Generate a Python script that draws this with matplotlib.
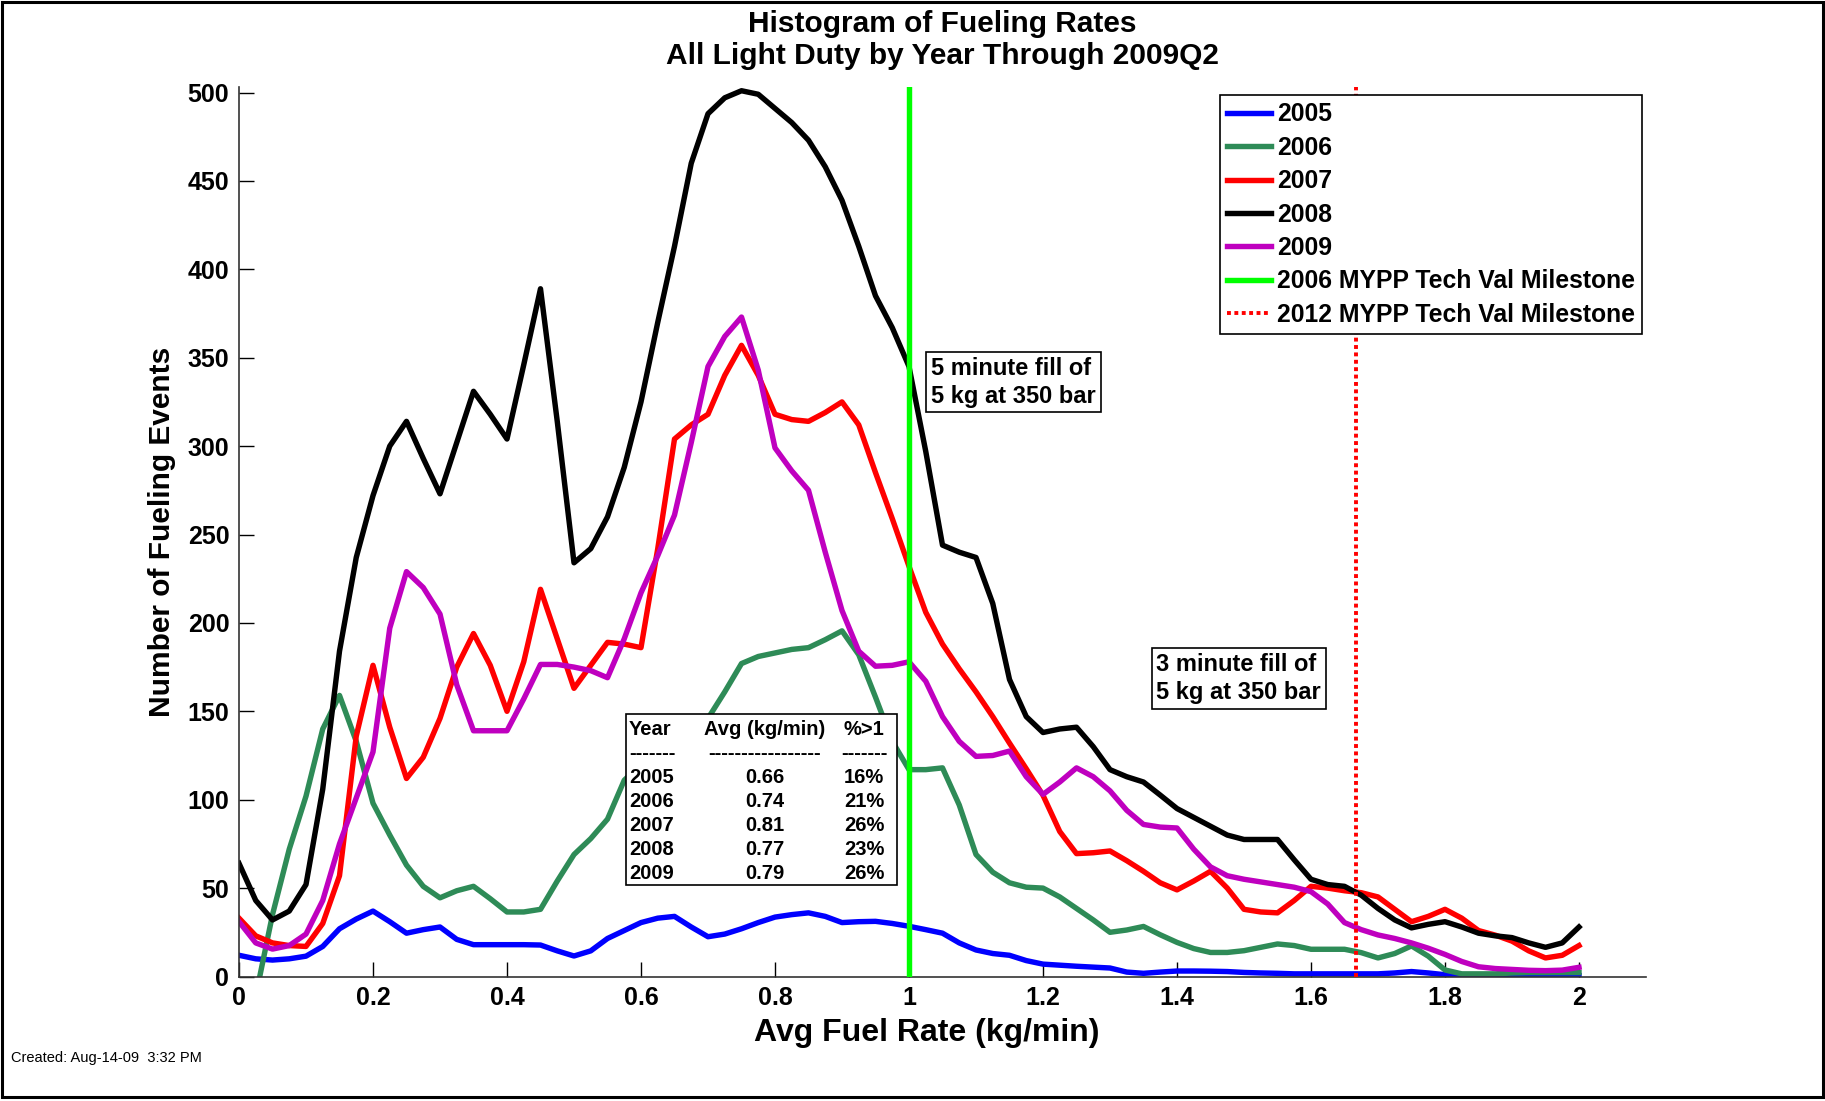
import numpy as np
import matplotlib
matplotlib.use('Agg')
import matplotlib.pyplot as plt
from matplotlib.patches import Rectangle
from matplotlib.ticker import FormatStrFormatter

plt.rcParams['font.family'] = ['Liberation Sans', 'DejaVu Sans']
plt.rcParams['font.weight'] = 'bold'

# ---------------- data ----------------
fuel_rate = np.linspace(0, 2, 81)   # kg/min, bins every 0.025

events_2005 = [12, 10, 9.3, 10, 11.5, 17, 27, 32.5, 37, 31,
               24.5, 26.5, 28, 21, 18, 18, 18, 18, 17.8, 14.5,
               11.6, 14.5, 21.5, 26, 30.5, 33, 34, 28, 22.5, 24,
               27, 30.5, 33.6, 35, 36, 34, 30.5, 31, 31.2, 30,
               28.4, 26.5, 24.5, 19, 15, 13, 12, 9, 7, 6.4,
               5.8, 5.3, 4.8, 2.5, 1.8, 2.5, 3.1, 3.1, 3, 2.8,
               2.3, 2, 1.8, 1.5, 1.5, 1.5, 1.5, 1.5, 1.5, 2,
               2.8, 2, 1, 0.7, 0.5, 0.5, 0.5, 0.5, 0.5, 0.5,
               0.5]
events_2006 = [-58, -11, 35, 72, 102, 140, 159, 133, 98, 80,
               63, 51, 44.5, 48.5, 51, 44, 36.5, 36.5, 38, 54,
               69, 78, 89, 111, 120, 127, 133, 139, 146, 161,
               177, 181, 183, 185, 186, 190.5, 195.5, 182, 158, 133,
               117, 117, 118, 97, 69, 59, 53, 50.5, 50, 45,
               38.5, 32, 25, 26.3, 28.3, 23.6, 19.3, 15.8, 13.6, 13.6,
               14.6, 16.5, 18.4, 17.5, 15.4, 15.4, 15.4, 13.5, 10.5, 13,
               17.3, 11.5, 3.7, 1.5, 1.5, 1.5, 2, 2.2, 2.2, 2.2,
               2.2]
events_2007 = [33, 23, 19, 17.5, 17, 30, 57, 136, 176, 141,
               112, 124, 146, 175, 194, 176, 150, 178, 219, 191,
               163, 176, 189, 188, 186, 242, 304, 312, 318, 340,
               357, 340, 318, 315, 314, 319, 325, 312, 285, 259,
               232, 206, 188, 174, 161, 147, 132, 117.5, 102.5, 82,
               69.5, 70, 71, 65.5, 59.5, 53, 49, 54, 59.5, 50,
               38, 36.5, 36, 43, 51, 50, 48.5, 47.4, 45, 38,
               31, 34, 38, 33, 26, 23.4, 20, 14.5, 10.5, 12,
               17.5]
events_2008 = [64, 43, 32, 37, 52, 106, 184, 237, 272, 300,
               314, 293, 273, 302, 331, 318, 304, 346, 389, 314,
               234, 242, 260, 288, 325, 370, 413, 460, 488, 497,
               501, 499, 491, 483, 473, 458, 439, 413, 385, 367,
               345, 297, 244, 240, 237, 211, 168, 147, 138, 140,
               141, 130, 117, 113, 110, 102.6, 95, 90, 85, 80,
               77.5, 77.5, 77.5, 66, 55, 52, 51, 46, 38.5, 32,
               27.5, 29.5, 31, 28, 24.5, 23, 22, 19, 16.5, 19,
               28]
events_2009 = [31, 19, 15.5, 17.5, 24, 43, 75, 101, 127, 197,
               229, 220, 205, 165, 139, 139, 139, 157, 176.5, 176.5,
               175, 173, 169, 191, 217, 238, 261, 302, 345, 362,
               373, 343, 299, 286, 275, 240, 207, 184, 175.5, 176,
               178, 167, 147, 133, 124.5, 125, 127.5, 113, 103, 110,
               118, 113, 105, 94, 86, 84.5, 84, 72, 62, 57,
               55, 53.5, 52, 50.5, 48, 41, 30.5, 26.5, 23.5, 21.5,
               19, 16, 12.5, 8.5, 5.5, 4.5, 4, 3.5, 3.3, 3.6,
               5.2]

years = ['2005', '2006', '2007', '2008', '2009']
year_colors = ['#0000ff', '#2e8b57', '#ff0000', '#000000', '#bf00bf']
series = [events_2005, events_2006, events_2007, events_2008, events_2009]

milestone_2006 = 5.0 / 5.0   # 5 kg in 5 minutes
milestone_2012 = 5.0 / 3.0   # 5 kg in 3 minutes

table_avg = ['0.66', '0.74', '0.81', '0.77', '0.79']
table_pct = ['16%', '21%', '26%', '23%', '26%']

x_ticks = np.arange(0, 2.01, 0.2)
y_ticks = np.arange(0, 501, 50)

# ---------------- figure ----------------
W, H = 1825, 1101
fig = plt.figure(figsize=(W / 100, H / 100), dpi=100)
ax = fig.add_axes([239 / W, 1 - 976.5 / H, 1407 / W, 889.3 / H])

for yr, col, vals in zip(years, year_colors, series):
    ax.plot(fuel_rate, vals, color=col, lw=3.9, label=yr, zorder=2,
            solid_joinstyle='round')

ax.axvline(milestone_2006, color='#00ff00', lw=3.9, zorder=3,
           label='2006 MYPP Tech Val Milestone')
ax.axvline(milestone_2012, color='#ff0000', lw=2.8, linestyle=(0, (1.0, 0.9)),
           zorder=3, label='2012 MYPP Tech Val Milestone')

ax.set_xlim(0, 2.1)
ax.set_ylim(0, 503)
ax.set_xticks(x_ticks)
ax.set_yticks(y_ticks)
ax.xaxis.set_major_formatter(FormatStrFormatter('%g'))
ax.tick_params(direction='in', length=10.8, width=1, labelsize=18, pad=7)
for s in ['top', 'right']:
    ax.spines[s].set_visible(False)
for s in ['left', 'bottom']:
    ax.spines[s].set_linewidth(1.2)
    ax.spines[s].set_color('#333333')

ax.set_xlabel('Avg Fuel Rate (kg/min)', fontsize=23, fontweight='bold', labelpad=3)
ax.xaxis.set_label_coords(0.4886, -0.047)
ax.set_ylabel('Number of Fueling Events', fontsize=21.5, fontweight='bold', labelpad=8)
ax.set_title('Histogram of Fueling Rates\nAll Light Duty by Year Through 2009Q2',
             fontsize=21.5, fontweight='bold', pad=16.5, linespacing=1.2)

# annotation boxes
box_kw = dict(boxstyle='square,pad=0.2', fc='white', ec='black', lw=1.2)
ax.text(1.033, 350.6, '5 minute fill of\n5 kg at 350 bar', ha='left', va='top',
        fontsize=17, fontweight='bold', bbox=box_kw, zorder=6, linespacing=1.28)
ax.text(1.369, 183, '3 minute fill of\n5 kg at 350 bar', ha='left', va='top',
        fontsize=17, fontweight='bold', bbox=box_kw, zorder=6, linespacing=1.28)

# summary table
px = 1.768  # pixels per event unit (for row spacing)
tbl_x0, tbl_x1 = 0.5776, 0.982
tbl_top, tbl_bot = 148.5, 51.75
ax.add_patch(Rectangle((tbl_x0, tbl_bot), tbl_x1 - tbl_x0, tbl_top - tbl_bot,
                       fc='white', ec='black', lw=1.2, zorder=5))
col1, col2, col3 = 0.582, 0.785, 0.933
row0 = (976.5 - 734.7) / px
dy = 24 / px
rows = [('Year', 'Avg (kg/min)', '%>1'),
        ('-------', '-----------------', '-------')]
rows += list(zip(years, table_avg, table_pct))
for i, (a, b, c) in enumerate(rows):
    yb = row0 - i * dy
    ax.text(col1, yb, a, ha='left', va='baseline', fontsize=14.5, fontweight='bold', zorder=6)
    ax.text(col2, yb, b, ha='center', va='baseline', fontsize=14.5, fontweight='bold', zorder=6)
    ax.text(col3, yb, c, ha='center', va='baseline', fontsize=14.5, fontweight='bold', zorder=6)

leg = ax.legend(loc='upper right', bbox_to_anchor=(0.9972, 0.9912), fontsize=17.8,
                frameon=True, fancybox=False, edgecolor='black', framealpha=1,
                borderpad=0.3, labelspacing=0.38, handlelength=1.75,
                handletextpad=0.24, borderaxespad=0)
leg.get_frame().set_linewidth(1.2)
leg.set_zorder(10)

fig.text(11 / W, 1 - 1058 / H, 'Created: Aug-14-09  3:32 PM', fontsize=10.5,
         fontweight='normal', ha='left', va='center')

fig.patches.append(Rectangle((0.001, 0.0035), 0.998, 0.9945, transform=fig.transFigure,
                             fill=False, ec='black', lw=2.2))

fig.savefig('out.png', dpi=100)
